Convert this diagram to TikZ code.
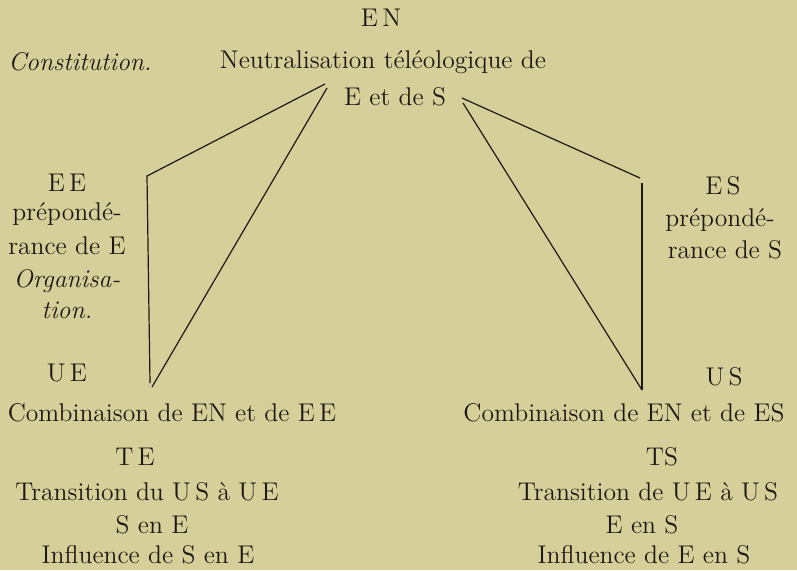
\documentclass[tikz,border=0pt]{standalone}
\usepackage{tikz}
\usetikzlibrary{positioning}
\definecolor{parchment}{RGB}{215,207,153}
\definecolor{ink}{RGB}{30,24,18}
\begin{document}
\begin{tikzpicture}[
    x=0.5pt, y=-0.5pt,
    every node/.style={font=\fontsize{12.8}{15}\selectfont, text=ink, inner sep=0pt},
    lbl/.style={anchor=center},
    stroke/.style={draw=ink, line width=0.6pt},
  ]

  % ── Background ───────────────────────────────────────────────────────────
  \fill[parchment] (0,0) rectangle (797,570);
  \useasboundingbox (0,0) rectangle (797,570);

  % ── Nodes ────────────────────────────────────────────────────────────────

  % Top
  \node[lbl] (EN)     at (381, 18)  {E\,N};
  \node[lbl] (Const)  at ( 80, 62)  {\textit{Constitution.}};
  \node[lbl] (Neutr)  at (383, 62)  {Neutralisation téléologique de};
  \node[lbl] (EetS)   at (395, 97)  {E et de S};

  % Left column
  \node[lbl] (EE)     at ( 67,183)  {E\,E};
  \node[lbl] (prepE)  at ( 67,214)  {prépondé-};
  \node[lbl] (ranceE) at ( 67,246)  {rance de E};
  \node[lbl] (Orga)   at ( 67,281)  {\textit{Organisa-}};
  \node[lbl] (tion)   at ( 67,310)  {\textit{tion.}};
  \node[lbl] (UE)     at ( 67,373)  {U\,E};
  \node[lbl] (CombE)  at (172,413)  {Combinaison de EN et de E\,E};
  \node[lbl] (TE)     at (135,457)  {T\,E};
  \node[lbl] (TransE) at (147,492)  {Transition du U\,S à U\,E};
  \node[lbl] (SenE)   at (152,525)  {S en E};
  \node[lbl] (InflE)  at (148,555)  {Influence de S en E};

  % Right column
  \node[lbl] (ES)     at (723,186)  {E\,S};
  \node[lbl] (prepS)  at (720,220)  {prépondé-};
  \node[lbl] (ranceS) at (725,250)  {rance de S};
  \node[lbl] (US)     at (724,377)  {U\,S};
  \node[lbl] (CombS)  at (624,413)  {Combinaison de EN et de ES};
  \node[lbl] (TS)     at (662,457)  {TS};
  \node[lbl] (TransS) at (648,492)  {Transition de U\,E à U\,S};
  \node[lbl] (EenS)   at (642,525)  {E en S};
  \node[lbl] (InflS)  at (644,555)  {Influence de E en S};

  % Corners of the two figures
  \coordinate (Ltop)  at (325, 84);
  \coordinate (Ldiag) at (327, 88);
  \coordinate (LEE)   at (147,176);
  \coordinate (LUE)   at (150,383);
  \coordinate (LUEd)  at (152,387);
  \coordinate (Rtop)  at (462, 98);
  \coordinate (Rdiag) at (463,103);
  \coordinate (RES)   at (640,178);
  \coordinate (RESv)  at (642,183);
  \coordinate (RUS)   at (642,390);

  % ── Edges ────────────────────────────────────────────────────────────────

  % EN → EE → UE, EN → UE
  \draw[stroke] (Ltop)  -- (LEE) -- (LUE);
  \draw[stroke] (Ldiag) -- (LUEd);

  % EN → ES → US, EN → US
  \draw[stroke] (Rtop)  -- (RES);
  \draw[stroke] (RESv)  -- (RUS);
  \draw[stroke] (Rdiag) -- (RUS);

\end{tikzpicture}
\end{document}
